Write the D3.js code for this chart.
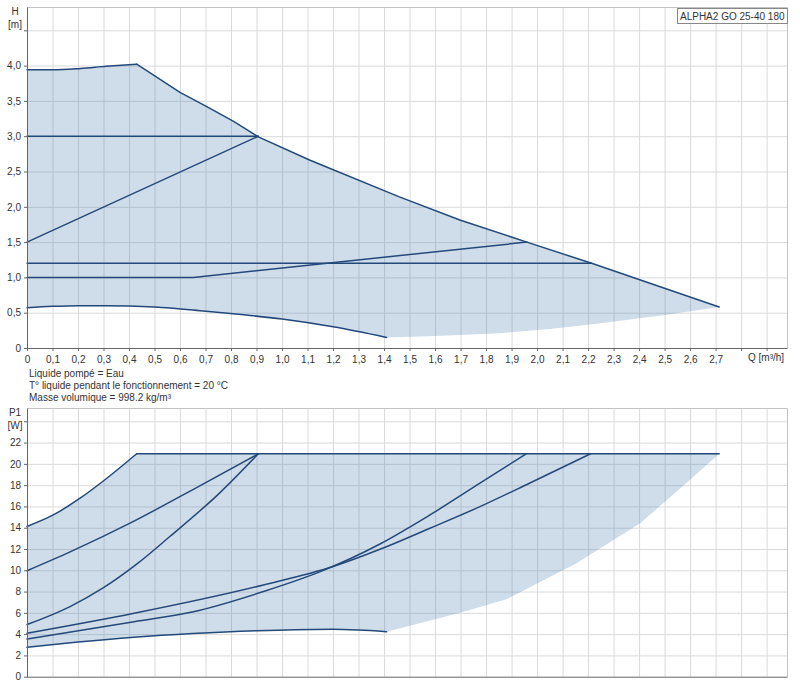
<!DOCTYPE html>
<html>
<head>
<meta charset="utf-8">
<script src="https://cdn.jsdelivr.net/npm/d3@7/dist/d3.min.js"></script>
<style>
  body { margin: 0; background: #fff; }
  svg text { font-family: "Liberation Sans", Arial, sans-serif; fill: #333; }
</style>
</head>
<body>
<div id="chart"></div>
<script>
// ---- axes / ticks ----
const qTicks  = [0,0.1,0.2,0.3,0.4,0.5,0.6,0.7,0.8,0.9,1.0,1.1,1.2,1.3,1.4,1.5,1.6,1.7,1.8,1.9,2.0,2.1,2.2,2.3,2.4,2.5,2.6,2.7,2.8,2.9];
const qLabels = ["0","0,1","0,2","0,3","0,4","0,5","0,6","0,7","0,8","0,9","1,0","1,1","1,2","1,3","1,4","1,5","1,6","1,7","1,8","1,9","2,0","2,1","2,2","2,3","2,4","2,5","2,6","2,7","",""];
const hTicks  = [0,0.5,1.0,1.5,2.0,2.5,3.0,3.5,4.0,4.5];
const hLabels = ["0","0,5","1,0","1,5","2,0","2,5","3,0","3,5","4,0",""];
const pTicks  = [0,2,4,6,8,10,12,14,16,18,20,22,24];
const pLabels = ["0","2","4","6","8","10","12","14","16","18","20","22",""];

const infoLines = ["Liquide pompé = Eau", "T° liquide pendant le fonctionnement = 20 °C", "Masse volumique = 998.2 kg/m³"];
const pumpName = "ALPHA2 GO 25-40 180";

// ---- H(Q) curves [m] ----
const hMaxQ = [0, 0.1, 0.21, 0.31, 0.43, 0.495, 0.6, 0.705, 0.81, 0.907, 1.11, 1.46, 1.70, 1.96, 2.214, 2.714];
const hMaxH = [3.94, 3.94, 3.96, 3.99, 4.02, 3.87, 3.62, 3.42, 3.21, 2.99, 2.66, 2.14, 1.81, 1.50, 1.20, 0.58];
const hMinQ = [0, 0.1, 0.2, 0.3, 0.5, 0.7, 0.85, 1.0, 1.2, 1.41];
const hMinH = [0.57, 0.59, 0.60, 0.60, 0.58, 0.52, 0.47, 0.41, 0.30, 0.15];
const hEdgeQ = [1.41, 1.6, 1.855, 2.05, 2.25, 2.51, 2.714];   // lower edge of range, no line
const hEdgeH = [0.15, 0.17, 0.21, 0.27, 0.35, 0.47, 0.58];
const hConst3Q = [0, 0.907];          const hConst3H = [3.0, 3.0];
const hPropQ   = [0, 0.907];          const hPropH   = [1.5, 3.0];
const hConst12Q = [0, 2.214];         const hConst12H = [1.2, 1.2];
const hKinkQ   = [0, 0.652, 1.96];    const hKinkH   = [1.0, 1.0, 1.5];

// ---- P1(Q) curves [W] ----
const pMaxQ = [0, 0.103, 0.208, 0.313, 0.43, 2.714];
const pMaxP = [14.12, 15.2, 16.77, 18.65, 20.95, 20.95];
const pC3Q = [0, 0.169, 0.404, 0.665, 0.907];
const pC3P = [9.96, 11.73, 14.43, 17.77, 20.95];
const pPropQ = [0, 0.169, 0.3, 0.43, 0.56, 0.757, 0.907];
const pPropP = [4.9, 6.59, 8.36, 10.57, 13.17, 17.3, 20.95];
const pC12Q = [0, 0.42, 0.927, 1.2, 1.384, 1.58, 1.776, 1.97, 2.21];
const pC12P = [4.08, 5.96, 8.62, 10.35, 11.97, 13.95, 15.98, 18.18, 20.95];
const pKinkQ = [0, 0.42, 0.652, 0.927, 1.15, 1.384, 1.58, 1.776, 1.957];
const pKinkP = [3.54, 5.17, 6.1, 8.0, 9.87, 12.47, 15.2, 18.18, 20.95];
const pMinQ = [0, 0.2, 0.42, 0.65, 0.9, 1.05, 1.2, 1.3, 1.41];
const pMinP = [2.76, 3.25, 3.7, 4.05, 4.32, 4.42, 4.45, 4.38, 4.23];
const pEdgeQ = [1.41, 1.463, 1.698, 1.88, 2.155, 2.404, 2.6, 2.714];
const pEdgeP = [4.23, 4.55, 6.0, 7.27, 10.66, 14.42, 18.5, 20.95];

const width = 800, height = 693;
const left = 27, right = 787;
const lineColor = "#23497a";

const svg = d3.select("#chart").append("svg")
    .attr("width", width)
    .attr("height", height);

const x = d3.scaleLinear().domain([0, 2.98]).range([left, right]);
const yH = d3.scaleLinear().domain([0, 4.83]).range([348, 7]);
const yP = d3.scaleLinear().domain([0, 25.25]).range([676.7, 408]);

const zip = (a, b) => a.map((d, i) => [d, b[i]]);

function panel(y, yTicks) {
    const g = svg.append("g");
    const [y0, y1] = y.range();

    // grid
    g.append("g")
        .attr("transform", `translate(0,${y0})`)
        .call(d3.axisBottom(x).tickValues(qTicks.slice(1)).tickSize(-(y0 - y1)).tickFormat(""))
        .call(a => a.select(".domain").remove())
        .selectAll("line").attr("stroke", "#dadada");
    g.append("g")
        .attr("transform", `translate(${left},0)`)
        .call(d3.axisLeft(y).tickValues(yTicks.slice(1)).tickSize(-(right - left)).tickFormat(""))
        .call(a => a.select(".domain").remove())
        .selectAll("line").attr("stroke", "#dadada");

    // frame
    g.append("path")
        .attr("d", `M${left},${y1 + 0.5}H${right + 0.5}V${y0}`)
        .attr("fill", "none")
        .attr("stroke", "#c4c4c4");
    return g;
}

function axes(g, y, yTicks, yLabels, showQ) {
    const [y0] = y.range();
    const xa = g.append("g")
        .attr("transform", `translate(0,${y0})`)
        .call(d3.axisBottom(x).tickValues(showQ ? qTicks : []).tickSize(3).tickSizeOuter(0)
            .tickFormat((d, i) => qLabels[i]));
    xa.select(".domain").attr("stroke", "#666").attr("d", `M${left},0.5H${right + 0.5}`);
    xa.selectAll("line").attr("stroke", "#666");
    xa.selectAll("text").attr("font-size", 10).attr("dy", "0.9em").style("font-family", "Liberation Sans, Arial, sans-serif");

    const ya = g.append("g")
        .attr("transform", `translate(${left},0)`)
        .call(d3.axisLeft(y).tickValues(yTicks).tickSize(3).tickSizeOuter(0)
            .tickFormat((d, i) => yLabels[i]));
    ya.select(".domain").attr("stroke", "#666");
    ya.selectAll("line").attr("stroke", "#666");
    ya.selectAll("text").attr("font-size", 10).attr("x", -6).style("font-family", "Liberation Sans, Arial, sans-serif");
}

function area(g, y, pts) {
    g.append("path")
        .attr("d", d3.line().x(d => x(d[0])).y(d => y(d[1]))(pts) + "Z")
        .attr("fill", "rgb(70,120,170)")
        .attr("fill-opacity", 0.26)
        .attr("stroke", "none");
}

function curve(g, y, pts, c) {
    g.append("path")
        .attr("d", d3.line().x(d => x(d[0])).y(d => y(d[1])).curve(c || d3.curveLinear)(pts))
        .attr("fill", "none")
        .attr("stroke", lineColor)
        .attr("stroke-width", 1.5)
        .attr("stroke-linejoin", "round")
        .attr("stroke-linecap", "round");
}

// max curves have a sharp corner at the peak: smooth up to it, straight after
function maxCurve(g, y, qs, vs, peak) {
    const pts = zip(qs, vs);
    const i = qs.indexOf(peak);
    curve(g, y, pts.slice(0, i + 1), d3.curveMonotoneX);
    curve(g, y, pts.slice(i));
}

// ---------- top panel: H ----------
const topG = panel(yH, hTicks);
area(topG, yH, zip(hMaxQ, hMaxH)
    .concat(zip(hEdgeQ, hEdgeH).reverse())
    .concat(zip(hMinQ, hMinH).reverse()));
curve(topG, yH, zip(hMinQ, hMinH), d3.curveMonotoneX);
curve(topG, yH, zip(hConst3Q, hConst3H));
curve(topG, yH, zip(hPropQ, hPropH));
curve(topG, yH, zip(hConst12Q, hConst12H));
curve(topG, yH, zip(hKinkQ, hKinkH));
maxCurve(topG, yH, hMaxQ, hMaxH, 0.43);
axes(topG, yH, hTicks, hLabels, true);

topG.append("text").attr("x", 15).attr("y", 15).attr("text-anchor", "middle").attr("font-size", 10).text("H");
topG.append("text").attr("x", 15).attr("y", 28).attr("text-anchor", "middle").attr("font-size", 10).text("[m]");
topG.append("text").attr("x", 748).attr("y", 361).attr("font-size", 10).text("Q [m³/h]");

// pump name box
topG.append("rect")
    .attr("x", 677.5).attr("y", 8.5).attr("width", 110).attr("height", 15)
    .attr("fill", "#fff").attr("stroke", "#888");
topG.append("text").attr("x", 680).attr("y", 20).attr("font-size", 10).text(pumpName);

// info text
svg.append("g").selectAll("text")
    .data(infoLines)
    .join("text")
    .attr("x", 29)
    .attr("y", (d, i) => 376.5 + i * 12)
    .attr("font-size", 10)
    .text(d => d);

// ---------- bottom panel: P1 ----------
const botG = panel(yP, pTicks);
area(botG, yP, zip(pMaxQ, pMaxP)
    .concat(zip(pEdgeQ, pEdgeP).reverse())
    .concat(zip(pMinQ, pMinP).reverse()));
curve(botG, yP, zip(pMinQ, pMinP), d3.curveMonotoneX);
curve(botG, yP, zip(pKinkQ, pKinkP), d3.curveMonotoneX);
curve(botG, yP, zip(pC12Q, pC12P), d3.curveMonotoneX);
curve(botG, yP, zip(pPropQ, pPropP), d3.curveMonotoneX);
curve(botG, yP, zip(pC3Q, pC3P), d3.curveMonotoneX);
maxCurve(botG, yP, pMaxQ, pMaxP, 0.43);
axes(botG, yP, pTicks, pLabels, false);

botG.append("text").attr("x", 15).attr("y", 416).attr("text-anchor", "middle").attr("font-size", 10).text("P1");
botG.append("text").attr("x", 15).attr("y", 429).attr("text-anchor", "middle").attr("font-size", 10).text("[W]");
</script>
</body>
</html>
